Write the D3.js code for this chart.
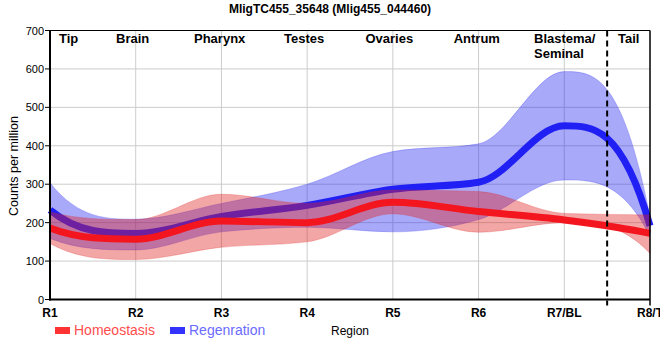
<!DOCTYPE html>
<html><head><meta charset="utf-8">
<script src="https://cdn.jsdelivr.net/npm/d3@7"></script>
<style>html,body{margin:0;padding:0;background:#fff;} svg{display:block;font-family:"Liberation Sans",Arial,sans-serif;}</style>
</head><body><svg id="chart" width="660" height="360"></svg>
<script>
// ---------------- data ----------------
const title = "MligTC455_35648 (Mlig455_044460)";
const regions = ["R1","R2","R3","R4","R5","R6","R7/BL","R8/T"];
const homeoMean  = [186, 157, 204, 200, 253, 229, 207, 172];
const homeoUpper = [228, 208, 274, 250, 285, 281, 224, 220];
const homeoLower = [146, 104, 136, 150, 223, 175, 200, 120];
const regenMean  = [233, 172, 216, 245, 287, 305, 452, 192];
const regenUpper = [304, 209, 250, 300, 385, 405, 593, 215];
const regenLower = [159, 129, 176, 188, 176, 208, 311, 165];
const yTicks = [0, 100, 200, 300, 400, 500, 600, 700];
const seriesNames = ["Homeostasis", "Regenration"];
const regionNames = [["Tip"],["Brain"],["Pharynx"],["Testes"],["Ovaries"],["Antrum"],["Blastema/","Seminal"],["Tail"]];
// label anchors (in region-index units), layout only
const regionNameAt = [0.105, 0.77, 1.68, 2.73, 3.68, 4.71, 5.647, 6.627];
const dividerAt = 6.5;

// ---------------- layout ----------------
const W = 660, H = 360;
const L = 50, R = 650, T = 30.5, B = 299.5;
const svg = d3.select("#chart");
const x = d3.scalePoint().domain(regions).range([L, R]);
const xi = d3.scaleLinear().domain([0, regions.length - 1]).range([L, R]);
const y = d3.scaleLinear().domain([0, 700]).range([B, T]);

// custom monotone-style cubic curve with steep end tangents
function CurveTail(context){ this._context = context; }
CurveTail.prototype = {
  areaStart(){ this._line = 0; },
  areaEnd(){ this._line = NaN; },
  lineStart(){ this._xs = []; this._ys = []; },
  point(px, py){ this._xs.push(+px); this._ys.push(+py); },
  lineEnd(){
    const xs = this._xs, ys = this._ys, n = xs.length, c = this._context;
    if (n > 0) {
      if (this._line) c.lineTo(xs[0], ys[0]); else c.moveTo(xs[0], ys[0]);
      if (n === 2) c.lineTo(xs[1], ys[1]);
      else if (n > 2) {
        const s = [], m = [];
        for (let i = 0; i < n - 1; i++) s.push((ys[i+1] - ys[i]) / (xs[i+1] - xs[i]));
        for (let i = 1; i < n - 1; i++) {
          const h0 = xs[i] - xs[i-1], h1 = xs[i+1] - xs[i];
          const p = (s[i-1] * h1 + s[i] * h0) / (h0 + h1);
          m[i] = (Math.sign(s[i-1]) + Math.sign(s[i])) * Math.min(Math.abs(s[i-1]), Math.abs(s[i]), 0.5 * Math.abs(p)) || 0;
        }
        const end = (sec, mi) => { let e = 3 * sec - 2 * mi; if (Math.sign(e) !== Math.sign(sec)) e = sec; return e; };
        m[0] = end(s[0], m[1]);
        m[n-1] = end(s[n-2], m[n-2]);
        for (let i = 0; i < n - 1; i++) {
          const h = (xs[i+1] - xs[i]) / 3;
          c.bezierCurveTo(xs[i] + h, ys[i] + m[i] * h, xs[i+1] - h, ys[i+1] - m[i+1] * h, xs[i+1], ys[i+1]);
        }
      }
    }
    if (this._line || (this._line !== 0 && n === 1)) c.closePath();
    this._line = 1 - this._line;
  }
};
const curveTail = ctx => new CurveTail(ctx);

// grid
const grid = svg.append("g");
grid.selectAll("line.h").data(yTicks.filter(v => v > 0 && v < 700)).join("line")
  .attr("x1", L).attr("x2", R).attr("y1", d => y(d)).attr("y2", d => y(d))
  .attr("stroke", "#cccccc").attr("stroke-width", 1);
grid.selectAll("line.v").data(regions.slice(1, -1)).join("line")
  .attr("x1", d => x(d)).attr("x2", d => x(d)).attr("y1", T).attr("y2", B)
  .attr("stroke", "#cccccc").attr("stroke-width", 1);

const areaGen = d3.area().x(d => x(d.r)).y0(d => y(d.lo)).y1(d => y(d.hi)).curve(curveTail);
const lineGen = d3.line().x(d => x(d.r)).y(d => y(d.v)).curve(curveTail);

const series = [
  {name: seriesNames[1], mean: regenMean, lo: regenLower, hi: regenUpper, line: "#2020f5", band: "#2828f0", legendText: "#6b6bff", sw: "#3333ff"},
  {name: seriesNames[0], mean: homeoMean, lo: homeoLower, hi: homeoUpper, line: "#f4161f", band: "#e02020", legendText: "#ff4d4d", sw: "#ff3333"}
];

series.forEach(s => {
  const bandData = regions.map((r, i) => ({r, lo: s.lo[i], hi: s.hi[i]}));
  svg.append("path").datum(bandData).attr("d", areaGen)
    .attr("fill", s.band).attr("fill-opacity", 0.4)
    .attr("stroke", s.band).attr("stroke-opacity", 0.25).attr("stroke-width", 1);
  const lineData = regions.map((r, i) => ({r, v: s.mean[i]}));
  svg.append("path").datum(lineData).attr("d", lineGen)
    .attr("fill", "none").attr("stroke", s.line).attr("stroke-width", 7)
    .attr("stroke-linejoin", "round");
});

// borders / axes
svg.append("line").attr("x1", L).attr("x2", R).attr("y1", T).attr("y2", T).attr("stroke", "#000").attr("stroke-width", 1);
svg.append("line").attr("x1", R).attr("x2", R).attr("y1", T).attr("y2", B + 6).attr("stroke", "#000").attr("stroke-width", 1.5);
svg.append("line").attr("x1", L).attr("x2", L).attr("y1", T - 0.5).attr("y2", B + 1).attr("stroke", "#000").attr("stroke-width", 2);
svg.append("line").attr("x1", L - 1).attr("x2", R).attr("y1", B).attr("y2", B).attr("stroke", "#000").attr("stroke-width", 2);

// dashed divider
const dx = xi(dividerAt);
svg.append("line").attr("x1", dx).attr("x2", dx).attr("y1", T).attr("y2", B + 6)
  .attr("stroke", "#000").attr("stroke-width", 2).attr("stroke-dasharray", "6,4");

// y ticks
const yt = svg.append("g");
yt.selectAll("line").data(yTicks).join("line")
  .attr("x1", L - 5).attr("x2", L).attr("y1", d => y(d)).attr("y2", d => y(d)).attr("stroke", "#000");
yt.selectAll("text").data(yTicks).join("text")
  .attr("x", L - 6).attr("y", d => y(d) + 4).attr("text-anchor", "end")
  .attr("font-size", 11).attr("fill", "#000").text(d => d);

// x tick labels
svg.append("g").selectAll("text").data(regions).join("text")
  .attr("x", d => x(d)).attr("y", 317).attr("text-anchor", "middle")
  .attr("font-size", 12).attr("font-weight", "bold").attr("fill", "#000").text(d => d);

// region names
const rn = svg.append("g");
regionNames.forEach((lines, i) => {
  lines.forEach((t, k) => {
    rn.append("text").attr("x", xi(regionNameAt[i])).attr("y", 43 + k * 15)
      .attr("font-size", 13).attr("font-weight", "bold").attr("fill", "#000").text(t);
  });
});

// title
svg.append("text").attr("x", 330).attr("y", 13).attr("text-anchor", "middle")
  .attr("font-size", 12).attr("font-weight", "bold").attr("fill", "#000").text(title);

// y label
svg.append("text").attr("transform", "translate(18,166) rotate(-90)").attr("text-anchor", "middle")
  .attr("font-size", 12.5).attr("fill", "#000").text("Counts per million");

// x label
svg.append("text").attr("x", 350).attr("y", 335).attr("text-anchor", "middle")
  .attr("font-size", 12).attr("fill", "#000").text("Region");

// legend
const leg = [series[1], series[0]];
const legX = [55, 170];
leg.forEach((s, i) => {
  svg.append("rect").attr("x", legX[i]).attr("y", 327).attr("width", 15).attr("height", 7).attr("fill", s.sw);
  svg.append("text").attr("x", legX[i] + 19).attr("y", 335).attr("font-size", 14)
    .attr("fill", s.legendText).text(s.name);
});
</script></body></html>
